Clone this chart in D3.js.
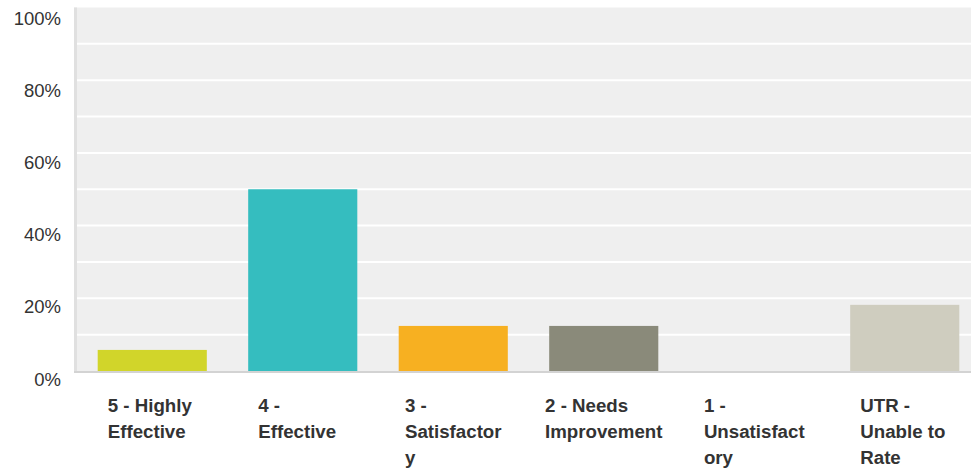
<!DOCTYPE html>
<html>
<head>
<meta charset="utf-8">
<script src="https://cdn.jsdelivr.net/npm/d3@7"></script>
<style>
  html, body { margin: 0; padding: 0; background: #ffffff; }
  svg { display: block; font-family: "Liberation Sans", Arial, Helvetica, sans-serif; }
</style>
</head>
<body>
<svg id="chart" width="971" height="468"></svg>
<script>
// Rating categories and the share of responses in each (percent)
const categories = [
  "5 - Highly Effective",
  "4 - Effective",
  "3 - Satisfactory",
  "2 - Needs Improvement",
  "1 - Unsatisfactory",
  "UTR - Unable to Rate"
];
const categoryLines = [
  ["5 - Highly", "Effective"],
  ["4 -", "Effective"],
  ["3 -", "Satisfactor", "y"],
  ["2 - Needs", "Improvement"],
  ["1 -", "Unsatisfact", "ory"],
  ["UTR -", "Unable to", "Rate"]
];
const values = [5.8, 50, 12.4, 12.4, 0, 18.2];
const barColors = ["#d1d52a", "#35bdbf", "#f7b021", "#8a8a7a", "#cdcbbc", "#cfcdbf"];
const yTicks = [0, 20, 40, 60, 80, 100];
const gridTicks = [10, 20, 30, 40, 50, 60, 70, 80, 90];

const svg = d3.select("#chart");

const plotLeft = 77, plotRight = 980, plotTop = 7.5, plotBottom = 371;

const x = d3.scaleBand()
  .domain(categories)
  .range([plotLeft, plotRight])
  .paddingInner(0.275)
  .paddingOuter(0.1375);

const y = d3.scaleLinear().domain([0, 100]).range([plotBottom, plotTop]);
// tick labels sit just below their gridlines
const yLabel = d3.scaleLinear().domain([0, 100]).range([385.5, 25]);

// plot background
svg.append("rect")
  .attr("x", plotLeft - 3).attr("y", y(100))
  .attr("width", 971 - plotLeft + 3).attr("height", plotBottom - y(100))
  .attr("fill", "#efefef");

// left edge strip
svg.append("rect")
  .attr("x", plotLeft - 3).attr("y", y(100))
  .attr("width", 3).attr("height", plotBottom - y(100) + 2)
  .attr("fill", "#e0e0e0");

// gridlines
svg.append("g")
  .selectAll("line")
  .data(gridTicks)
  .join("line")
  .attr("x1", plotLeft).attr("x2", 971)
  .attr("y1", d => y(d)).attr("y2", d => y(d))
  .attr("stroke", "#ffffff")
  .attr("stroke-width", 2);

// baseline
svg.append("line")
  .attr("x1", plotLeft - 3).attr("x2", 971)
  .attr("y1", plotBottom + 1).attr("y2", plotBottom + 1)
  .attr("stroke", "#d3d3d3")
  .attr("stroke-width", 2);

// bars
svg.append("g")
  .selectAll("rect")
  .data(values)
  .join("rect")
  .attr("x", (d, i) => x(categories[i]))
  .attr("y", d => y(d))
  .attr("width", x.bandwidth())
  .attr("height", d => y(0) - y(d))
  .attr("fill", (d, i) => barColors[i]);

// y tick labels
svg.append("g")
  .selectAll("text")
  .data(yTicks)
  .join("text")
  .attr("x", 61)
  .attr("y", d => yLabel(d))
  .attr("text-anchor", "end")
  .attr("font-size", "18.5px")
  .attr("fill", "#333333")
  .text(d => d + "%");

// category labels: left-aligned lines in a block (at least 89px wide)
// centred under each bar
const minBlock = 89;
const lab = svg.append("g")
  .selectAll("text")
  .data(categories)
  .join("text")
  .attr("y", 412.4)
  .attr("font-size", "18.7px")
  .attr("font-weight", "bold")
  .attr("fill", "#333333");

lab.each(function(d, i) {
  const t = d3.select(this);
  const spans = t.selectAll("tspan")
    .data(categoryLines[i])
    .join("tspan")
    .attr("dy", (s, j) => j === 0 ? 0 : 25.6)
    .text(s => s);
  let w = minBlock;
  spans.each(function() { w = Math.max(w, this.getComputedTextLength()); });
  const left = x(d) + x.bandwidth() / 2 - w / 2;
  spans.attr("x", left);
});
</script>
</body>
</html>
